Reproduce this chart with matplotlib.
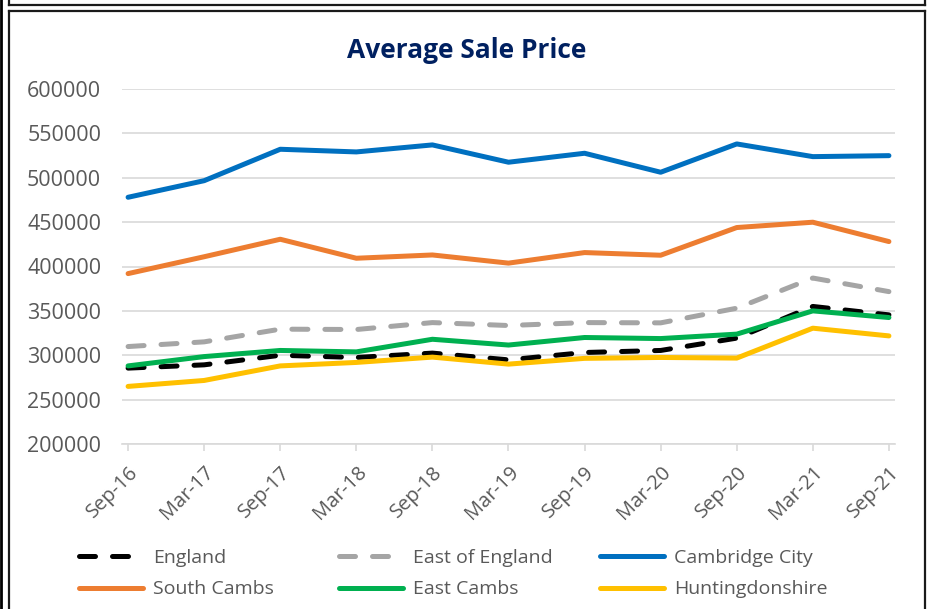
import matplotlib
matplotlib.use("Agg")
import matplotlib.pyplot as plt
from matplotlib.lines import Line2D

periods = ["Sep-16", "Mar-17", "Sep-17", "Mar-18", "Sep-18", "Mar-19",
           "Sep-19", "Mar-20", "Sep-20", "Mar-21", "Sep-21"]
england = [285500, 289200, 300000, 297500, 302400, 294800, 303100, 305400, 319300, 355000, 345500]
east_of_england = [309800, 315100, 329400, 329000, 336800, 333500, 336800, 336500, 353000, 387000, 371700]
cambridge_city = [478000, 496700, 532100, 529100, 537000, 517500, 527600, 506200, 538100, 523800, 524900]
south_cambs = [392000, 411000, 430700, 409300, 413000, 403800, 415700, 412700, 443900, 449900, 428100]
east_cambs = [288000, 298500, 305400, 303800, 318000, 311500, 320000, 318800, 323800, 350000, 342500]
huntingdonshire = [264900, 271600, 288000, 291900, 297900, 290000, 296500, 297500, 296800, 330500, 321800]
y_ticks = [200000, 250000, 300000, 350000, 400000, 450000, 500000, 550000, 600000]

W, H = 928, 609
fig = plt.figure(figsize=(W / 100, H / 100), dpi=100)
plt.rcParams['font.family'] = ['Open Sans', 'DejaVu Sans']

def fx(x):
    return x / W

def fy(y):
    return 1 - y / H

ax = fig.add_axes([fx(122), fy(444), fx(895) - fx(122), fy(89) - fy(444)])

x = list(range(len(periods)))
lw = 3.6
series = [
    ("England", england, "#000000", True),
    ("East of England", east_of_england, "#A5A5A5", True),
    ("Cambridge City", cambridge_city, "#0070C0", False),
    ("South Cambs", south_cambs, "#ED7D31", False),
    ("East Cambs", east_cambs, "#00B050", False),
    ("Huntingdonshire", huntingdonshire, "#FFC000", False),
]
handles = {}
for name, vals, col, dashed in series:
    if dashed:
        ln, = ax.plot(x, vals, color=col, lw=lw, solid_capstyle='round',
                      dash_capstyle='round', dashes=(3.2, 3.4), label=name)
    else:
        ln, = ax.plot(x, vals, color=col, lw=lw, solid_capstyle='round',
                      solid_joinstyle='round', label=name)
    handles[name] = ln

ax.set_xlim(-0.08, 10.08)
ax.set_ylim(200000, 600000)
ax.set_yticks(y_ticks)
ax.set_yticklabels([str(v) for v in y_ticks])
ax.set_xticks(x)
ax.set_xticklabels(periods, rotation=45, ha='right', va='top', rotation_mode='anchor')
ax.grid(axis='y', color='#D9D9D9', lw=1.2)
ax.set_axisbelow(True)
for s in ['top', 'right', 'left']:
    ax.spines[s].set_visible(False)
ax.spines['bottom'].set_color('#D9D9D9')
ax.spines['bottom'].set_linewidth(1.2)
ax.tick_params(axis='y', length=0, pad=15, labelsize=15.5, labelcolor='#595959')
ax.tick_params(axis='x', length=5, color='#D9D9D9', width=1.2, pad=8,
               labelsize=14.5, labelcolor='#595959')

fig.text(fx(467), fy(51), "Average Sale Price", ha='center', va='center',
         fontsize=19, fontweight='bold', color='#002060')

cols = [
    (79, ["England", "South Cambs"]),
    (339, ["East of England", "East Cambs"]),
    (600, ["Cambridge City", "Huntingdonshire"]),
]
for xs, names in cols:
    leg = fig.legend([handles[n] for n in names], names, loc='center left',
                     bbox_to_anchor=(fx(xs), fy(573.5)), frameon=False,
                     fontsize=14, handlelength=3.3, handletextpad=0.5,
                     labelspacing=0.7, borderpad=0, borderaxespad=0)
    for t in leg.get_texts():
        t.set_color('#595959')

# borders
bc = '#1a1a1a'
def line(xs, ys, lw=1.6, color=bc):
    fig.add_artist(Line2D([fx(v) for v in xs], [fy(v) for v in ys], color=color,
                          lw=lw, transform=fig.transFigure, solid_capstyle='projecting'))

line([1.5, 1.5], [0, 609], lw=2.0, color='#000000')
line([9.5, 9.5], [-5, 4.5])
line([9.5, 925], [4.5, 4.5])
line([925, 925], [-5, 4.5])
line([9.5, 9.5], [10.5, 615])
line([9.5, 925], [10.5, 10.5])
line([925, 925], [10.5, 615])

fig.savefig("out.png", dpi=100)
